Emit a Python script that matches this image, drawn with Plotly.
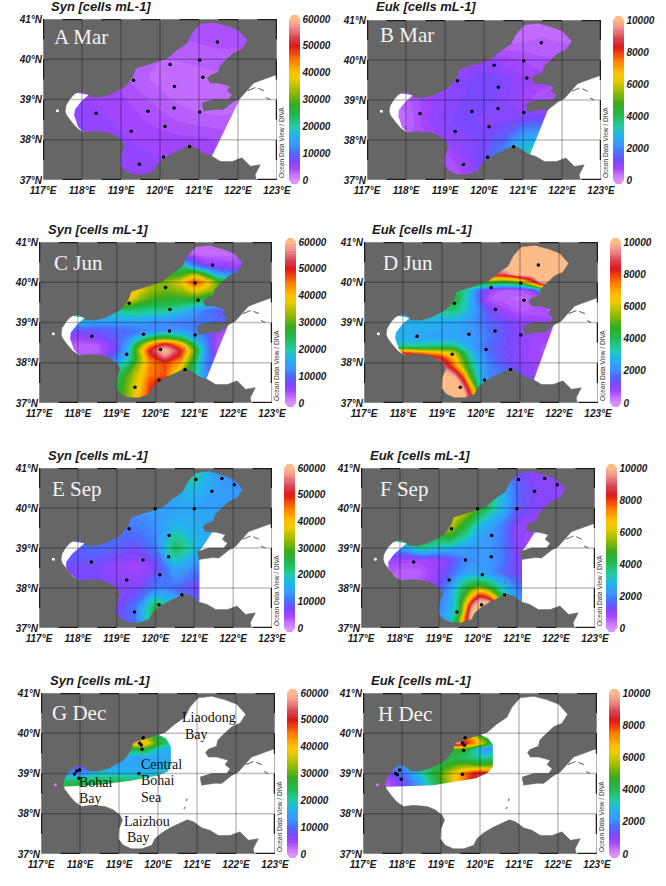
import plotly.graph_objects as go

W, H = 666, 886

# ---------- coastline (lon, lat), from the Liaodong side round to Shandong ----------
COAST_LON = [123.0,122.40,122.06,121.89,121.63,121.46,121.12,121.08,121.38,121.76,121.85,121.72,121.80,121.50,121.29,121.22,121.29,121.50,121.53,121.59,121.89,122.10,122.25,122.02,121.72,121.38,121.03,120.82,120.69,120.42,120.18,119.92,119.67,119.37,119.31,119.20,119.09,118.85,118.73,118.47,118.20,118.17,118.04,117.91,117.80,117.68,117.59,117.57,117.60,117.72,117.87,118.04,118.30,118.64,118.85,119.03,119.09,119.00,118.98,119.11,119.32,119.58,119.84,119.92,120.09,120.31,120.52,120.75,120.91,121.12,121.33,121.55,121.85,122.10,122.32,122.57,122.44,122.47]
COAST_LAT = [39.62,39.41,39.04,38.95,38.75,38.76,38.71,38.91,39.00,39.00,39.12,39.22,39.33,39.41,39.41,39.52,39.60,39.68,39.82,39.89,40.16,40.25,40.47,40.72,40.83,40.92,40.88,40.65,40.40,40.22,40.02,39.94,39.86,39.77,39.59,39.43,39.31,39.19,39.13,39.06,39.06,39.12,39.19,39.19,39.13,39.00,38.85,38.71,38.62,38.46,38.29,38.18,38.21,38.18,38.10,37.96,37.84,37.63,37.38,37.22,37.13,37.13,37.22,37.38,37.52,37.65,37.74,37.85,37.80,37.65,37.59,37.46,37.46,37.55,37.34,37.38,37.13,37.00]

# ---------- white "no data" masks ----------
WEST_LON_AD = [118.17,117.98,117.82,117.80,117.90,118.05,117.3,117.3]
WEST_LAT_AD = [39.12,38.95,38.75,38.60,38.32,38.18,38.18,39.25]
WEST_LON_EF = [118.17,117.85,117.70,117.70,117.78,118.00,117.3,117.3]
WEST_LAT_EF = [39.12,38.85,38.65,38.50,38.38,38.20,38.20,39.25]
EAST_A = ([121.33,122.06,122.40,123.0,123.0,121.33],[37.59,39.04,39.41,39.62,37.0,37.0])
EAST_B = ([121.16,121.72,122.06,122.40,123.0,123.0,121.16],[37.59,38.95,39.04,39.41,39.62,37.0,37.0])
EAST_C = ([121.30,121.91,122.40,123.0,123.0,121.30],[37.58,39.03,39.41,39.62,37.0,37.0])
EAST_D = ([121.36,121.90,122.40,123.0,123.0,121.36],[37.59,39.03,39.41,39.62,37.0,37.0])
EAST_EF = ([121.13,121.13,121.25,121.45,121.85,122.40,123.0,123.0,121.13],[37.55,38.92,39.08,39.38,39.42,39.41,39.62,37.0,37.0])
DEC_G = ([117.3,118.5,119.3,120.0,120.25,120.33,120.33,120.21,119.9,120.2,121.0,123.0,123.0,117.3],[38.66,38.72,38.82,38.95,39.05,39.2,39.67,39.87,40.02,40.6,41.0,41.0,37.0,37.0])
DEC_H = ([117.3,118.8,119.9,120.2,120.33,120.33,120.21,119.9,120.2,121.0,123.0,123.0,117.3],[38.66,38.71,38.88,39.02,39.17,39.72,39.87,40.02,40.6,41.0,41.0,37.0,37.0])
SMALL_ISLE_LON = [122.25,122.45,None,122.52,122.66,None,122.72,122.82,None,120.72,120.75,None,120.66,120.70]
SMALL_ISLE_LAT = [39.22,39.30,None,39.28,39.22,None,39.05,39.00,None,38.32,38.38,None,38.12,38.17]

# ---------- station positions ----------
ST_SPRING_LON = [121.47,120.26,121.02,121.10,119.32,120.37,120.36,119.69,121.02,118.36,120.13,119.26,120.09,119.47,120.76]
ST_SPRING_LAT = [40.43,39.87,39.98,39.55,39.48,39.32,38.79,38.71,38.69,38.66,38.33,38.21,37.57,37.39,37.83]
ST_SEP_LON = [121.04,121.71,122.03,121.45,119.99,121.00,119.32,120.35,120.34,119.68,118.35,120.11,119.26,120.09,119.46,120.68]
ST_SEP_LAT = [40.71,40.74,40.58,40.42,39.98,39.98,39.48,39.31,38.78,38.70,38.65,38.33,38.20,37.58,37.40,37.83]
ST_DEC_G_LON = [119.62,119.53,119.57,119.59,119.51,117.99,117.92,117.86,117.97]
ST_DEC_G_LAT = [39.89,39.75,39.71,39.60,39.00,39.09,39.06,38.99,38.88]
ST_DEC_H_LON = [119.62,119.55,119.60,119.58,119.55,117.98,117.94,117.84,117.88]
ST_DEC_H_LAT = [39.89,39.75,39.70,39.58,38.98,38.86,39.09,39.00,38.97]

# ---------- gridded fields (cells mL-1) ----------
LON_HALF = [117.5,118,118.5,119,119.5,120,120.5,121,121.5,122,122.5]
LAT_HALF = [37,37.5,38,38.5,39,39.5,40,40.5,41]

Z_A = [
 [5500,5500,5500,5500,5500,5500,5200,5000,4800,4500,4500],
 [5500,5500,5500,5500,5400,5200,5000,4800,4500,4300,4300],
 [5500,5500,5500,5300,5000,4800,4600,4500,4200,4000,4000],
 [5500,5500,5300,4900,4400,3800,3300,3000,2800,2800,2800],
 [5500,5200,4900,4500,3800,3000,2300,1800,1800,2000,2200],
 [4800,4600,4300,3800,2800,2300,2300,2200,2300,2400,2500],
 [3600,3500,3400,3200,2800,2600,2600,2800,3000,3000,3000],
 [3300,3300,3300,3300,3300,3300,3300,3600,3800,3800,3800],
 [3300,3300,3300,3300,3300,3300,3300,3400,3600,3800,3800]]

Z_B = [
 [500,500,500,500,700,1100,1700,2800,3600,3500,3500],
 [500,500,500,600,900,1300,2300,3300,3800,3800,3800],
 [500,500,700,900,1100,1200,1600,2600,2800,2700,2500],
 [400,400,800,1100,1200,1100,1100,1200,1300,1100,1000],
 [400,500,800,1000,1150,1200,1100,800,600,600,600],
 [500,600,800,900,1100,1300,1100,900,800,700,700],
 [400,400,500,600,800,900,800,700,600,600,600],
 [300,300,300,300,300,350,350,400,450,400,400],
 [300,300,300,300,300,300,300,300,300,300,300]]

LON_C = [117.5,118,118.5,119,119.3,119.6,119.85,120.25,120.65,121,121.3,121.6,122,122.5]
LAT_C = [37,37.4,37.7,38,38.15,38.3,38.45,38.6,38.8,39,39.3,39.6,39.8,40,40.2,40.4,40.7,41]
Z_C = [
 [20000,20000,22000,26000,33000,42000,48000,50000,44000,30000,15000,9000,8000,8000],
 [20000,20000,22000,25000,32000,40000,48000,52000,44000,28000,14000,9000,8000,8000],
 [10000,11000,14000,22000,30000,38000,45000,47000,33000,22000,12000,8000,7000,7000],
 [4000,4000,5000,15000,22000,34000,44000,48000,42000,24000,12000,6000,5000,5000],
 [3500,3500,4000,11000,18000,33000,47000,56000,47000,27000,12000,5000,4000,4000],
 [3000,3000,3000,8000,17000,36000,50000,61000,50000,30000,13000,3500,3000,3000],
 [3000,3000,3500,8000,15000,30000,42000,52000,42000,24000,12000,3500,3000,3000],
 [5000,5000,6000,9000,12000,19000,25000,30000,25000,16000,11000,4000,3000,3000],
 [8000,8000,8500,9500,10000,11000,12000,13000,13000,11500,9000,5000,4000,4000],
 [17000,16000,14000,14000,14000,14000,13000,12000,11000,11000,11000,10000,9000,9000],
 [24000,24000,22000,20000,22000,22000,21000,21000,18000,14000,11000,9000,8000,8000],
 [45000,45000,45000,46000,40000,33000,30000,28000,28000,28000,25000,22000,20000,20000],
 [46000,46000,46000,46000,42000,37000,33000,31000,33000,38000,35000,30000,28000,28000],
 [40000,40000,40000,40000,40000,36000,33000,32000,37000,48000,41000,30000,26000,26000],
 [30000,30000,30000,30000,30000,30000,29000,28000,28000,34000,26000,15000,12000,12000],
 [16000,16000,16000,16000,16000,16000,16000,18000,22000,12000,7000,6000,5000,5000],
 [3000,3000,3000,3000,3000,3000,3000,3000,4000,2500,2000,2000,2000,2000],
 [2000,2000,2000,2000,2000,2000,2000,2000,2000,2000,2000,2000,2000,2000]]

LON_D = [117.5,118,118.5,119,119.3,119.55,119.75,119.95,120.2,120.6,121,121.3,121.6,122,122.5]
LAT_D = [37,37.3,37.6,37.9,38.1,38.25,38.4,38.6,39,39.3,39.6,39.8,40,40.2,40.4,41]
Z_D = [
 [10500,10500,10500,10500,10500,10500,9000,4200,2800,1500,1000,800,700,700,700],
 [10500,10500,10500,10500,10500,10000,7500,4200,2600,1700,1200,900,800,700,700],
 [10500,10500,10500,10500,10500,8200,5000,3000,2000,1800,1300,1000,800,700,700],
 [10500,10500,10500,9500,7800,5500,3800,2700,2000,1500,1100,900,700,600,600],
 [10500,10500,10000,8500,6800,4800,3300,2500,1800,1300,1000,800,700,600,600],
 [8500,8000,7200,6500,6000,4200,2900,2300,1700,1300,1000,800,700,600,600],
 [3500,3500,3600,3800,3800,3000,2500,2000,1600,1300,1000,800,700,600,600],
 [2700,2600,2500,2500,2500,2400,2300,2100,1800,1300,1000,850,750,700,700],
 [2700,2700,2800,2600,2500,2400,2200,1900,1600,1300,1000,900,800,700,700],
 [3000,3000,3200,3500,3700,3200,2600,2000,1200,800,550,600,600,500,500],
 [4500,4500,4500,4500,4600,3500,2600,1500,600,450,400,450,600,600,600],
 [4200,4200,4200,4200,4200,3600,2800,1800,900,500,500,900,3500,4500,4500],
 [6000,6000,6000,6000,6000,5500,5000,5000,5000,4500,5200,7500,10500,10500,10500],
 [8000,8000,8000,8000,8000,8200,8300,8500,8800,9000,10500,10500,10500,10500,10500],
 [10500,10500,10500,10500,10500,10500,10500,10500,10500,10500,10500,10500,10500,10500,10500],
 [10500,10500,10500,10500,10500,10500,10500,10500,10500,10500,10500,10500,10500,10500,10500]]

Z_E = [
 [7000,7000,7000,7000,10000,24000,18000,12000,10000,10000,10000],
 [7000,7000,7000,7000,11000,25000,19000,11000,8000,8000,8000],
 [7000,7000,7000,6500,7000,11000,10000,7500,7000,7000,7000],
 [7000,7500,7000,5500,4500,7000,15000,12000,9000,9000,9000],
 [9000,9500,10000,9000,8000,11000,24000,18000,14000,14000,14000],
 [11000,11000,11000,11000,11000,12500,17500,16000,15000,15000,15000],
 [12000,12000,12000,12000,13000,14000,14500,14500,14500,14500,14500],
 [14000,14000,14000,14000,14000,14000,16000,18000,14500,13000,12000],
 [18000,18000,18000,18000,18000,18000,20000,21000,14000,12000,12000]]

LON_F = [117.5,118,118.5,119,119.3,119.5,119.7,119.85,120.05,120.3,120.6,121,121.5,122,122.5]
LAT_F = [37,37.2,37.4,37.6,37.75,37.9,38.05,38.2,38.4,38.7,39,39.5,40,40.5,41]
Z_F = [
 [1500,1500,1500,2000,3000,5000,8300,10500,10500,10500,8000,3000,2000,2000,2000],
 [1500,1500,1500,2000,3000,5000,8300,10500,10500,10500,8500,3000,2000,2000,2000],
 [1500,1500,1500,2000,2800,3800,7500,10300,10500,10500,7500,3000,2000,2000,2000],
 [1200,1200,1200,1800,2600,3800,6500,9000,10500,10500,6500,2500,1800,1800,1800],
 [1000,1000,1200,1700,2600,3800,5500,7200,9000,8000,4800,2200,1600,1600,1600],
 [800,800,1000,1500,2500,3500,4700,5800,7000,5800,3500,2000,1400,1400,1400],
 [700,700,900,1300,2200,3200,4200,4500,4800,4200,3000,1800,1300,1300,1300],
 [500,500,600,1100,1900,2700,3300,3500,3600,3200,2400,1500,1200,1200,1200],
 [500,500,500,1000,1500,2000,2300,2400,2400,2200,1700,1200,1000,1000,1000],
 [800,800,800,900,1200,1700,2000,2100,2200,2200,1900,1100,800,800,800],
 [2000,2200,3500,3000,2800,2500,2400,2300,2300,2200,1900,1000,700,700,700],
 [5000,5000,4500,5200,5700,4800,4000,3300,2700,2300,1900,1000,700,700,700],
 [6500,6500,6500,6500,6500,6500,6000,5500,4500,3700,2800,1500,1100,1000,1000],
 [6000,6000,6000,6000,6000,6000,5500,4800,4000,3300,2800,1600,1100,1000,1000],
 [2000,2000,2000,2000,2000,2000,2000,2000,2000,2000,2000,1200,1000,1000,1000]]

LON_G = [117.5,118,118.5,119,119.4,119.7,120,120.4]
LAT_G = [38.6,38.8,39,39.15,39.4,39.6,39.75,39.9,40.1]
Z_G = [
 [27000,27000,27000,27000,27000,27000,27000,25000],
 [24000,24000,24000,24000,24000,24000,23000,20000],
 [14000,13000,18000,18000,17000,17000,18000,19000],
 [10000,8000,15000,15000,15000,15000,16000,17000],
 [10000,8000,14000,15000,15000,15000,15000,15000],
 [25000,25000,25000,25000,25000,26000,18000,16000],
 [35000,35000,35000,37000,42000,40000,27000,18000],
 [30000,30000,30000,31000,31000,33000,26000,17000],
 [20000,20000,20000,20000,20000,22000,18000,15000]]

LON_H = [117.5,117.8,118.1,118.5,118.9,119.45,119.7,120,120.4]
LAT_H = [38.6,38.8,39,39.2,39.4,39.6,39.75,39.9,40.1]
Z_H = [
 [300,700,1400,2200,4000,6500,7800,8800,8000],
 [500,900,1500,2700,4300,6800,8000,8800,8000],
 [1000,1500,1900,3200,4500,6800,7800,8700,7800],
 [1800,2200,2300,3200,4200,5100,5200,4900,5200],
 [2300,2300,2300,3000,4000,4000,3700,3400,3700],
 [2500,2500,2500,3500,4500,4700,4300,2500,2000],
 [4000,4000,4000,5000,7000,9800,8000,6500,3000],
 [4000,4000,4000,5000,6000,7000,7500,5000,3200],
 [3000,3000,3000,3000,3000,3000,3200,3500,3500]]

# ---------- text ----------
SYN_TITLE = "Syn [cells mL-1]"
EUK_TITLE = "Euk [cells mL-1]"
SYN_TICKS = [0,10000,20000,30000,40000,50000,60000]
EUK_TICKS = [0,2000,4000,6000,8000,10000]
LON_TICKS = [117,118,119,120,121,122,123]
LAT_TICKS = [37,38,39,40,41]
ODV_TEXT = "Ocean Data View / DIVA"

ODV_SCALE = [[0,"#da90ff"],[.04,"#bf66ff"],[.08,"#a044ff"],[.12,"#7a48ff"],[.17,"#4a70ff"],[.22,"#3a98ff"],
             [.28,"#22b4ec"],[.33,"#22ccaa"],[.4,"#22bb55"],[.47,"#33aa22"],[.55,"#99bb00"],[.63,"#eecc00"],[.67,"#ffc000"],
             [.75,"#ff7700"],[.83,"#dd1818"],[.88,"#d84050"],[.95,"#f09090"],[1,"#fdbb88"]]

LAND = "#666666"
SANS = "Liberation Sans"
SERIF = "Liberation Serif"

# label, title, z, lons, lats, max, ticks, masks, stations, frame px (l, r, t, b), title px, label px, bar left px
PANELS = [
 ("A Mar",SYN_TITLE,Z_A,LON_HALF,LAT_HALF,60000,SYN_TICKS,[(WEST_LON_AD,WEST_LAT_AD),EAST_A],(ST_SPRING_LON,ST_SPRING_LAT),(43,277,19,180),(49,6),(52,37),289),
 ("B Mar",EUK_TITLE,Z_B,LON_HALF,LAT_HALF,10000,EUK_TICKS,[(WEST_LON_AD,WEST_LAT_AD),EAST_B],(ST_SPRING_LON,ST_SPRING_LAT),(367,601,20,180),(374,7),(378,35),613),
 ("C Jun",SYN_TITLE,Z_C,LON_C,LAT_C,60000,SYN_TICKS,[(WEST_LON_AD,WEST_LAT_AD),EAST_C],(ST_SPRING_LON,ST_SPRING_LAT),(39,272,242,403),(46,229),(52,263),285),
 ("D Jun",EUK_TITLE,Z_D,LON_D,LAT_D,10000,EUK_TICKS,[(WEST_LON_AD,WEST_LAT_AD),EAST_D],(ST_SPRING_LON,ST_SPRING_LAT),(364,598,242,403),(370,229),(381,263),610),
 ("E Sep",SYN_TITLE,Z_E,LON_HALF,LAT_HALF,60000,SYN_TICKS,[(WEST_LON_EF,WEST_LAT_EF),EAST_EF],(ST_SEP_LON,ST_SEP_LAT),(39,272,468,628),(46,455),(50,489),284),
 ("F Sep",EUK_TITLE,Z_F,LON_F,LAT_F,10000,EUK_TICKS,[(WEST_LON_EF,WEST_LAT_EF),EAST_EF],(ST_SEP_LON,ST_SEP_LAT),(361,595,468,628),(368,455),(378,489),606),
 ("G Dec",SYN_TITLE,Z_G,LON_G,LAT_G,60000,SYN_TICKS,[DEC_G],(ST_DEC_G_LON,ST_DEC_G_LAT),(41,275,693,854),(48,680),(50,713),287),
 ("H Dec",EUK_TITLE,Z_H,LON_H,LAT_H,10000,EUK_TICKS,[DEC_H],(ST_DEC_H_LON,ST_DEC_H_LAT),(363,597,693,854),(369,680),(376,714),609),
]

SEA_NAMES = [("Liaodong",180,717),("Bay",183,734),("Central",139,764),("Bohai",139,780),("Sea",139,797),
             ("Bohai",77,782),("Bay",77,798),("Laizhou",122,821),("Bay",125,837)]

fig = go.Figure()
annotations, shapes = [], []
bold_it = dict(family=SANS, weight="bold", style="italic", color="#1a1a1a")

land_x = COAST_LON + [117.0, 117.0, 123.0, 123.0]
land_y = COAST_LAT + [37.0, 41.0, 41.0, 39.62]

for i, (label, title, z, xs, ys, zmax, cticks, masks, st, box, tpos, lpos, barx) in enumerate(PANELS):
    n = "" if i == 0 else str(i + 1)
    xa, ya = "x" + n, "y" + n
    l, r, t, b = box
    fig.update_layout({
        "xaxis" + n: dict(domain=[l / W, r / W], range=[117, 123], anchor=ya, showgrid=False, zeroline=False,
                          tickvals=LON_TICKS, ticktext=[f"{v}°E" for v in LON_TICKS], ticks="", showline=False,
                          tickfont=dict(size=10, **bold_it), tickangle=0, ticklabelstandoff=3),
        "yaxis" + n: dict(domain=[1 - b / H, 1 - t / H], range=[37, 41], anchor=xa, showgrid=False, zeroline=False,
                          tickvals=LAT_TICKS, ticktext=[f"{v}°N" for v in LAT_TICKS], ticks="", showline=False,
                          tickfont=dict(size=10, **bold_it)),
    })
    fig.add_trace(go.Contour(
        x=xs, y=ys, z=z, xaxis=xa, yaxis=ya, colorscale=ODV_SCALE, zmin=0, zmax=zmax, zauto=False,
        autocontour=False, contours=dict(coloring="fill", start=0, end=zmax, size=zmax / 70, showlines=False),
        line=dict(width=0, smoothing=1), hoverinfo="skip",
        colorbar=dict(x=barx / W, xanchor="left", xpad=0, thickness=11, thicknessmode="pixels",
                      y=1 - b / H, yanchor="bottom", ypad=0, len=(b - t) / H, lenmode="fraction",
                      tickvals=cticks, ticktext=[str(v) for v in cticks], ticks="", outlinewidth=0,
                      tickfont=dict(size=10, **bold_it), ticklabelposition="outside"),
    ))
    for mx, my in masks:
        fig.add_trace(go.Scatter(x=mx, y=my, xaxis=xa, yaxis=ya, mode="lines", fill="toself", fillcolor="white",
                                 line=dict(width=0), hoverinfo="skip", showlegend=False))
    fig.add_trace(go.Scatter(x=land_x, y=land_y, xaxis=xa, yaxis=ya, mode="lines", fill="toself", fillcolor=LAND,
                             line=dict(width=0.5, color=LAND), hoverinfo="skip", showlegend=False))
    fig.add_trace(go.Scatter(x=SMALL_ISLE_LON, y=SMALL_ISLE_LAT, xaxis=xa, yaxis=ya, mode="lines",
                             line=dict(width=1.2, color="#777777"), hoverinfo="skip", showlegend=False))
    fig.add_trace(go.Scatter(x=[117.37], y=[38.72], xaxis=xa, yaxis=ya, mode="markers",
                             marker=dict(size=3, color="white" if i < 6 else "#d77cff"), hoverinfo="skip", showlegend=False))
    # graticule
    gx, gy = [], []
    for v in LON_TICKS[1:-1]:
        gx += [v, v, None]; gy += [37, 41, None]
    for v in LAT_TICKS[1:-1]:
        gx += [117, 123, None]; gy += [v, v, None]
    fig.add_trace(go.Scatter(x=gx, y=gy, xaxis=xa, yaxis=ya, mode="lines",
                             line=dict(width=1.5, color="rgba(0,0,0,0.25)"), hoverinfo="skip", showlegend=False))
    # frame: light line with black half-degree dashes
    fig.add_trace(go.Scatter(x=[117, 123, 123, 117, 117], y=[37, 37, 41, 41, 37], xaxis=xa, yaxis=ya, mode="lines",
                             line=dict(width=1.5, color="#9a9a9a"), cliponaxis=False, hoverinfo="skip", showlegend=False))
    fx, fy = [], []
    for k in range(6):
        for yy in (37, 41):
            fx += [117.5 + k, 118 + k, None]; fy += [yy, yy, None]
    for k in range(4):
        for xx in (117, 123):
            fx += [xx, xx, None]; fy += [37.5 + k, 38 + k, None]
    fig.add_trace(go.Scatter(x=fx, y=fy, xaxis=xa, yaxis=ya, mode="lines",
                             line=dict(width=2.5, color="#1c1c1c"), cliponaxis=False, hoverinfo="skip", showlegend=False))
    fig.add_trace(go.Scatter(x=st[0], y=st[1], xaxis=xa, yaxis=ya, mode="markers",
                             marker=dict(size=3.5, color="black"), hoverinfo="skip", showlegend=False))
    annotations.append(dict(text=title, xref="paper", yref="paper", x=tpos[0] / W, y=1 - tpos[1] / H,
                            xanchor="left", yanchor="middle", showarrow=False, font=dict(size=13, **bold_it)))
    annotations.append(dict(text=label, xref="paper", yref="paper", x=lpos[0] / W, y=1 - lpos[1] / H,
                            xanchor="left", yanchor="middle", showarrow=False,
                            font=dict(family=SERIF, size=21, color="#f4f4f4")))
    annotations.append(dict(text=ODV_TEXT, xref="paper", yref="paper", x=(r + 4.5) / W, y=1 - b / H,
                            xanchor="center", yanchor="bottom", textangle=-90, showarrow=False,
                            font=dict(family=SANS, size=6.5, color="#333333")))
    # pointed ends of the colour bar
    for yb, ytip, col in ((t, t - 4, "#fdbb88"), (b, b + 4, "#da90ff")):
        shapes.append(dict(type="path", xref="paper", yref="paper", fillcolor=col, line=dict(width=0),
                           path=f"M {barx/W} {1-yb/H} L {(barx+11)/W} {1-yb/H} L {(barx+8)/W} {1-ytip/H} L {(barx+3)/W} {1-ytip/H} Z"))

for txt, px, py in SEA_NAMES:
    annotations.append(dict(text=txt, xref="paper", yref="paper", x=px / W, y=1 - py / H, xanchor="left",
                            yanchor="middle", showarrow=False, font=dict(family=SERIF, size=14, color="#111111")))

fig.update_layout(width=W, height=H, margin=dict(l=0, r=0, t=0, b=0, autoexpand=False), paper_bgcolor="white",
                  plot_bgcolor="white", showlegend=False, annotations=annotations, shapes=shapes)
fig.write_html("out.html", config={"displayModeBar": False}, post_script="document.body.style.margin='0';")
